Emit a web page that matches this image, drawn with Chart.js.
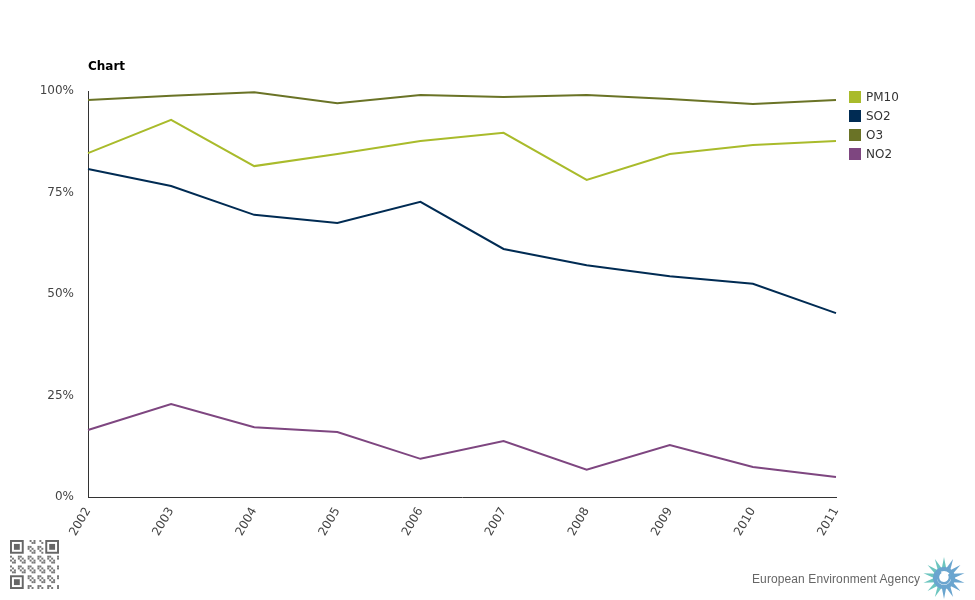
<!DOCTYPE html>
<html>
<head>
<meta charset="utf-8">
<script src="https://cdn.jsdelivr.net/npm/chart.js@4"></script>
<style>
  body { margin: 0; background: #fff; font-family: "DejaVu Sans", Verdana, sans-serif; }
  #wrap { position: relative; width: 975px; height: 600px; }
  #title { position: absolute; left: 88px; top: 59px; font-size: 12px; font-weight: bold; color: #000; }
  #legend { position: absolute; left: 849px; top: 87px; font-size: 12px; color: #333; }
  #legend div { height: 19px; display: flex; align-items: center; }
  #legend span.box { width: 12px; height: 12px; margin-right: 5px; display: inline-block; }
  #eea { position: absolute; left: 752px; top: 572px; font-size: 12px; color: #666; font-family: "Liberation Sans", Arial, sans-serif; letter-spacing: 0.1px; }
  #logo { position: absolute; left: 922px; top: 556px; }
  #qr { position: absolute; left: 10px; top: 540px; }
</style>
</head>
<body>
<div id="wrap">
  <canvas id="c" width="975" height="600"></canvas>
  <div id="title">Chart</div>
  <div id="legend"></div>
  <div id="eea">European Environment Agency</div>
  <svg id="logo" width="44" height="44" viewBox="-22 -22 44 44"></svg>
  <svg id="qr" width="49" height="49" viewBox="0 0 25 25"></svg>
</div>
<script>
const years = ['2002', '2003', '2004', '2005', '2006', '2007', '2008', '2009', '2010', '2011']
const pm10 = [84.7, 92.9, 81.5, 84.5, 87.7, 89.7, 78.1, 84.5, 86.7, 87.7]
const so2 = [80.8, 76.6, 69.5, 67.5, 72.7, 61.1, 57.1, 54.4, 52.5, 45.3]
const o3 = [97.8, 98.8, 99.7, 97.0, 99.0, 98.5, 99.0, 98.0, 96.8, 97.8]
const no2 = [16.5, 22.9, 17.2, 16.0, 9.4, 13.8, 6.7, 12.8, 7.4, 4.9]
const yTicks = [0, 25, 50, 75, 100]

const series = [
    { label: 'PM10', data: pm10, color: '#a9bb2b' },
    { label: 'SO2', data: so2, color: '#002b53' },
    { label: 'O3', data: o3, color: '#6a7326' },
    { label: 'NO2', data: no2, color: '#7e4680' },
]

// html legend
const legend = document.getElementById('legend')
series.forEach(({label, color}) => {
    const row = document.createElement('div')
    row.innerHTML = '<span class="box" style="background:' + color + '"></span>' + label
    legend.appendChild(row)
})

const config = {
    type: 'line',
    data: {
        labels: years,
        datasets: series.map(s => ({
            label: s.label,
            data: s.data,
            borderColor: s.color,
            backgroundColor: s.color,
            borderWidth: 2,
            pointRadius: 0,
            tension: 0,
        }))
    },
    options: {
        responsive: false,
        animation: false,
        layout: { padding: { top: 91, right: 139, left: 0, bottom: 0 } },
        plugins: { legend: { display: false }, title: { display: false }, tooltip: { enabled: false } },
        scales: {
            x: {
                offset: false,
                grid: { display: false },
                border: { display: true, color: '#333', width: 1 },
                ticks: {
                    color: '#444', font: { family: 'DejaVu Sans', size: 12 },
                    minRotation: 60, maxRotation: 60, padding: 0,
                },
                afterFit: (scale) => { scale.height = 103 },
            },
            y: {
                min: 0, max: 100,
                afterBuildTicks: (scale) => { scale.ticks = yTicks.map(v => ({ value: v })) },
                grid: { display: false },
                border: { display: true, color: '#333', width: 1 },
                ticks: {
                    color: '#444', font: { family: 'DejaVu Sans', size: 12 }, padding: 6,
                    callback: (v) => v + '%',
                },
                afterFit: (scale) => { scale.width = 88 },
            }
        }
    }
}

new Chart(document.getElementById('c'), config)

// eea flower logo
const logo = document.getElementById('logo')
let petals = ''
for (let i = 0; i < 14; i++) {
    const a = i * 360 / 14
    const col = (a > 20 && a < 200) ? '#6aa5cf' : '#6cc5bf'
    petals += '<path d="M -2.5 -8 L 0 -21 L 2.5 -8 Z" fill="' + col + '" transform="rotate(' + a + ')"/>'
}
petals += '<circle r="11" fill="#6aa5cf"/><circle r="7" fill="#fff"/><path d="M -3 -6 A 6 6 0 1 0 5 -4" stroke="#6aa5cf" stroke-width="2.5" fill="none"/>'
logo.innerHTML = petals

// qr-like decoration
const qr = document.getElementById('qr')
let cells = ''
const finder = (x, y) => '<rect x="' + x + '" y="' + y + '" width="7" height="7" fill="#666"/><rect x="' + (x + 1) + '" y="' + (y + 1) + '" width="5" height="5" fill="#fff"/><rect x="' + (x + 2) + '" y="' + (y + 2) + '" width="3" height="3" fill="#666"/>'
for (let r = 0; r < 25; r++) {
    for (let c = 0; c < 25; c++) {
        if ((r < 8 && c < 8) || (r < 8 && c > 16) || (r > 16 && c < 8)) continue
        if (((r * 7 + c * 13 + r * c) % 5) < 2) cells += '<rect x="' + c + '" y="' + r + '" width="1" height="1" fill="#777"/>'
    }
}
qr.innerHTML = cells + finder(0, 0) + finder(18, 0) + finder(0, 18)
</script>
</body>
</html>
